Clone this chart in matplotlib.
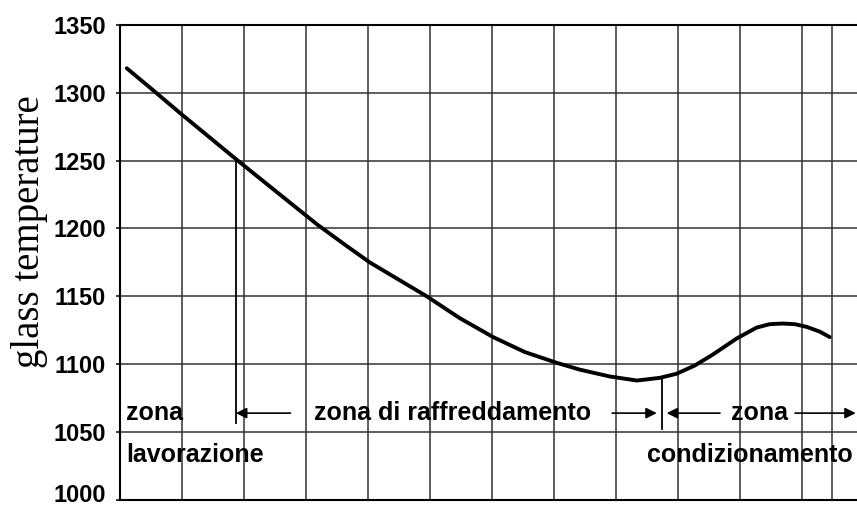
import matplotlib.pyplot as plt
from matplotlib.transforms import ScaledTranslation

# curve (x in grid columns, y in temperature)
xs = [0.11, 0.53, 0.97, 1.90, 2.58, 3.18, 3.63, 4.03, 4.95, 5.48, 6.02, 6.53,
      7.05, 7.42, 7.90, 8.34, 8.71, 8.98, 9.27, 9.56, 9.95, 10.27, 10.48,
      10.69, 10.89, 11.08, 11.29, 11.45]
ys = [1318, 1302, 1285, 1250, 1225, 1203, 1188, 1175, 1150, 1134, 1120, 1109,
      1101, 1096, 1091, 1088, 1090, 1093, 1099, 1107, 1119, 1127, 1129.5,
      1130, 1129.5, 1127.5, 1124, 1120]

yticks = [1000, 1050, 1100, 1150, 1200, 1250, 1300, 1350]
xgrid = [1, 2, 3, 4, 5, 6, 7, 8, 9, 10, 11, 11.48]

x_end_work = 1.87   # fine zona lavorazione
x_end_cool = 8.74   # fine zona di raffreddamento
y_arrow = 1064

fig = plt.figure(figsize=(8.57, 5.07), dpi=100)
ax = fig.add_axes([0.14, 0.0138, 0.86, 0.9372])
ax.set_xlim(0, 11.89)
ax.set_ylim(1000, 1350)

# griglia
for x in xgrid:
    ax.axvline(x, color='#333333', lw=1.1, zorder=1)
for y in yticks[1:]:
    ax.axhline(y, color='#333333', lw=1.1, zorder=1)

ax.plot(xs, ys, color='black', lw=2.8, solid_capstyle='round',
        solid_joinstyle='round', zorder=3)

# linee verticali di separazione
ax.plot([x_end_work, x_end_work], [1250, 1057], color='black', lw=1.3)
ax.plot([x_end_cool, x_end_cool], [1090, 1052], color='black', lw=1.3)

tf = dict(family='Liberation Sans', weight='bold', fontsize=18)
ap = dict(arrowstyle='-|>', mutation_scale=16, lw=1.2, color='black',
          shrinkA=0, shrinkB=0)

ax.text(0.1, y_arrow, 'zona', ha='left', va='center', **tf)
ax.text(0.1, 1033, 'lavorazione', ha='left', va='center', **tf)
ax.text(5.37, y_arrow, 'zona di raffreddamento', ha='center', va='center', **tf)
ax.text(10.32, y_arrow, 'zona', ha='center', va='center', **tf)
ax.text(10.16, 1033, 'condizionamento', ha='center', va='center', **tf)

ax.annotate('', xy=(x_end_work, y_arrow), xytext=(2.75, y_arrow), arrowprops=ap)
ax.annotate('', xy=(x_end_cool - 0.08, y_arrow), xytext=(7.94, y_arrow), arrowprops=ap)
ax.annotate('', xy=(x_end_cool + 0.08, y_arrow), xytext=(9.68, y_arrow), arrowprops=ap)
ax.annotate('', xy=(11.87, y_arrow), xytext=(10.89, y_arrow), arrowprops=ap,
            annotation_clip=False)

ax.set_yticks(yticks)
ax.set_yticklabels([str(v) for v in yticks], family='Liberation Sans',
                   weight='bold', fontsize=17)
ax.set_xticks([])
ax.tick_params(axis='y', length=3, width=1.1, pad=7)
# l'etichetta 1000 sta un po' più in alto
lab0 = ax.get_yticklabels()[0]
lab0.set_transform(lab0.get_transform() + ScaledTranslation(0, 5 / 72, fig.dpi_scale_trans))
ax.spines['right'].set_visible(False)
for s in ['left', 'bottom', 'top']:
    ax.spines[s].set_linewidth(1.5)

ax.set_ylabel('glass temperature', family='Liberation Serif', fontsize=28)
ax.yaxis.set_label_coords(-0.097, 0.564)

fig.savefig('out.png', dpi=100)
